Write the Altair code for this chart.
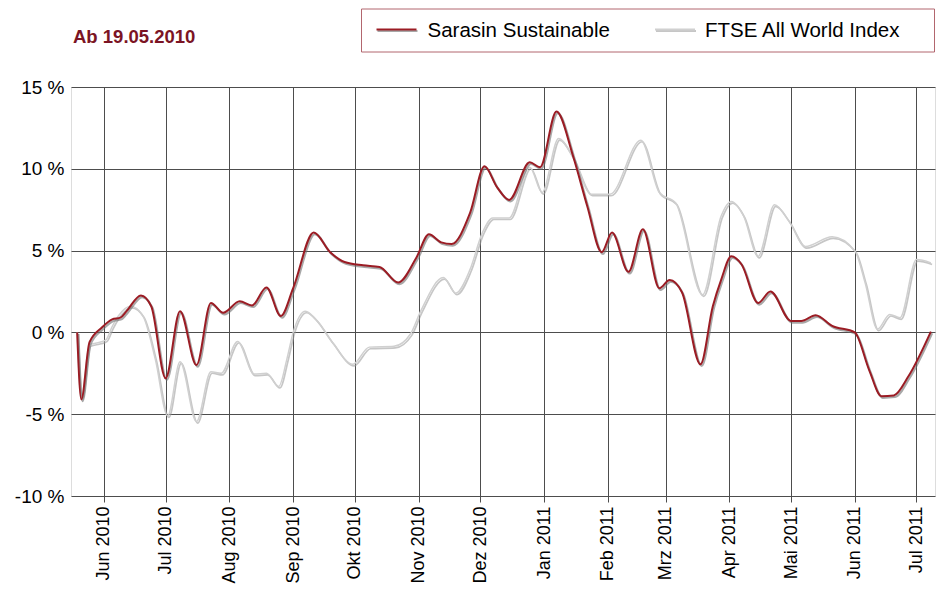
import altair as alt
import pandas as pd

SERIES = ["Sarasin Sustainable", "FTSE All World Index"]
COLORS = ["#9b1c24", "#d0d0d0"]
SHADOWS = ["#6e6e6e", "#a0a0a0"]
HEADER = "Ab 19.05.2010"
MONTHS_DE = ["Jan", "Feb", "Mrz", "Apr", "Mai", "Jun", "Jul", "Aug", "Sep", "Okt", "Nov", "Dez"]

SARASIN_DATES = ["2010-05-19", "2010-05-21", "2010-05-25", "2010-05-31", "2010-06-05", "2010-06-09",
                 "2010-06-12", "2010-06-19", "2010-06-24", "2010-07-01", "2010-07-08", "2010-07-16",
                 "2010-07-23", "2010-07-29", "2010-08-06", "2010-08-12", "2010-08-19", "2010-08-26",
                 "2010-09-01", "2010-09-11", "2010-09-19", "2010-09-26", "2010-10-05", "2010-10-13",
                 "2010-10-22", "2010-10-31", "2010-11-06", "2010-11-12", "2010-11-17", "2010-11-26",
                 "2010-12-03", "2010-12-09", "2010-12-15", "2010-12-25", "2010-12-30", "2011-01-07",
                 "2011-01-15", "2011-01-22", "2011-01-29", "2011-02-03", "2011-02-11", "2011-02-18",
                 "2011-02-26", "2011-03-03", "2011-03-09", "2011-03-18", "2011-03-24", "2011-03-28",
                 "2011-04-02", "2011-04-07", "2011-04-15", "2011-04-21", "2011-05-01", "2011-05-06",
                 "2011-05-13", "2011-05-21", "2011-06-01", "2011-06-08", "2011-06-14", "2011-06-20",
                 "2011-06-27", "2011-07-08"]
SARASIN_VALUES = [0, -4.1, -0.6, 0.3, 0.8, 0.9, 1.3, 2.26, 1.6, -2.8,
                  1.3, -2.0, 1.8, 1.2, 1.9, 1.65, 2.75, 1.0, 2.7,
                  6.1, 4.9, 4.3, 4.1, 4.0, 3.05, 4.6, 6.0, 5.5, 5.4,
                  7.3, 10.15, 8.9, 8.1, 10.4, 10.1, 13.5, 10.8, 7.7, 4.9,
                  6.1, 3.7, 6.3, 2.7, 3.2, 2.45, -1.95, 1.6, 3.2, 4.65,
                  4.15, 1.8, 2.5, 0.7, 0.7, 1.05, 0.4, 0.0, -2.3, -3.9,
                  -3.85, -2.7, 0.05]

FTSE_DATES = ["2010-05-19", "2010-05-21", "2010-05-25", "2010-05-30", "2010-06-02", "2010-06-05",
              "2010-06-08", "2010-06-14", "2010-06-20", "2010-06-26", "2010-07-02", "2010-07-08",
              "2010-07-16", "2010-07-23", "2010-07-28", "2010-08-05", "2010-08-13", "2010-08-19",
              "2010-08-25", "2010-08-29", "2010-09-01", "2010-09-07", "2010-09-12", "2010-09-20",
              "2010-09-30", "2010-10-08", "2010-10-20", "2010-10-28", "2010-11-02", "2010-11-13",
              "2010-11-19", "2010-11-26", "2010-12-02", "2010-12-07", "2010-12-15", "2010-12-25",
              "2010-12-31", "2011-01-08", "2011-01-15", "2011-01-24", "2011-02-02", "2011-02-17",
              "2011-02-26", "2011-03-06", "2011-03-19", "2011-03-28", "2011-04-02", "2011-04-08",
              "2011-04-15", "2011-04-23", "2011-04-30", "2011-05-08", "2011-05-21", "2011-06-01",
              "2011-06-06", "2011-06-12", "2011-06-18", "2011-06-23", "2011-07-01", "2011-07-08"]
FTSE_VALUES = [0, -4.0, -0.75, -0.6, -0.45, 0.35, 1.0, 1.6, 1.0, -1.65,
               -5.1, -1.8, -5.45, -2.4, -2.5, -0.55, -2.55, -2.5, -3.3, -1.6,
               0.0, 1.3, 0.8, -0.6, -1.95, -0.9, -0.85, -0.1, 1.3, 3.35,
               2.4, 3.85, 6.1, 7.0, 7.0, 10.1, 8.55, 11.85, 10.7, 8.45,
               8.45, 11.75, 8.55, 7.9, 2.3, 7.1, 8.0, 7.1, 4.65, 7.8,
               6.8, 5.25, 5.85, 5.0, 3.05, 0.2, 1.1, 0.9, 4.45, 4.25]

Y_TICKS = [-10, -5, 0, 5, 10, 15]
X_TICK_MONTHS = [(2010, m) for m in range(6, 13)] + [(2011, m) for m in range(1, 8)]

rows = []
for d, v in zip(SARASIN_DATES, SARASIN_VALUES):
    rows.append({"date": d, "value": v, "series": SERIES[0]})
for d, v in zip(FTSE_DATES, FTSE_VALUES):
    rows.append({"date": d, "value": v, "series": SERIES[1]})
df = pd.DataFrame(rows)

GRID = "#4d4d4d"
FONT = "Liberation Sans"
W, H = 864, 409

label_expr = "[" + ",".join("'%s'" % m for m in MONTHS_DE) + "][utcmonth(datum.value)] + ' ' + utcyear(datum.value)"

x_enc = alt.X(
    "date:T",
    scale=alt.Scale(type="utc",
                    domain=[alt.DateTime(year=2010, month=5, date=16, utc=True),
                            alt.DateTime(year=2011, month=7, date=10, utc=True)]),
    axis=alt.Axis(
        values=[alt.DateTime(year=y, month=m, date=1, utc=True) for y, m in X_TICK_MONTHS],
        labelExpr=label_expr, labelAngle=270, labelAlign="right", labelBaseline="middle",
        labelPadding=4, labelFontSize=18, labelFont=FONT, labelColor="#000000",
        grid=True, gridColor=GRID, gridWidth=1, domain=False,
        ticks=True, tickSize=6, tickColor=GRID, title=None, labelOverlap=False),
)
y_enc = alt.Y(
    "value:Q",
    scale=alt.Scale(domain=[-10, 15], nice=False, zero=False),
    axis=alt.Axis(values=Y_TICKS, labelExpr="datum.value + ' %'", labelFontSize=19,
                  labelFont=FONT, labelColor="#000000", labelPadding=7,
                  grid=True, gridColor=GRID, gridWidth=1, domain=False, ticks=False, title=None),
)

base = alt.Chart(df)

layers = []
widths = [2.0, 1.5]
# draw FTSE first, then Sarasin on top
for idx in [1, 0]:
    name = SERIES[idx]
    shadow = base.transform_filter(alt.datum.series == name).mark_line(
        interpolate="monotone", strokeWidth=widths[idx] + 0.2, color=SHADOWS[idx], opacity=0.6,
        xOffset=1.2, yOffset=1.6).encode(x=x_enc, y=y_enc)
    main = base.transform_filter(alt.datum.series == name).mark_line(
        interpolate="monotone", strokeWidth=widths[idx], color=COLORS[idx]).encode(x=x_enc, y=y_enc)
    layers += [shadow, main]

one = pd.DataFrame({"k": [0]})
ann = alt.Chart(one)

legend_box = ann.mark_rect(fill="white", stroke="#b2666e", strokeWidth=1).encode(
    x=alt.value(290.5), x2=alt.value(W - 0.5), y=alt.value(-78), y2=alt.value(-35))

legend_items = []
sym_x = [305.5, 584]
txt_x = [356.5, 634]
for i in range(2):
    legend_items.append(ann.mark_rule(color=SHADOWS[i], strokeWidth=2.2, opacity=0.6).encode(
        x=alt.value(sym_x[i] + 1), x2=alt.value(sym_x[i] + 41), y=alt.value(-56)))
    legend_items.append(ann.mark_rule(color=COLORS[i], strokeWidth=2.0).encode(
        x=alt.value(sym_x[i]), x2=alt.value(sym_x[i] + 40), y=alt.value(-57.5)))
    legend_items.append(ann.mark_text(text=SERIES[i], align="left", baseline="alphabetic",
                                      fontSize=20.5, font=FONT, color="#000000").encode(
        x=alt.value(txt_x[i]), y=alt.value(-50.5)))

header = ann.mark_text(text=HEADER, align="left", baseline="alphabetic", fontSize=18.5,
                       fontWeight="bold", font=FONT, color="#7b1424").encode(
    x=alt.value(2), y=alt.value(-44))

chart = alt.layer(*layers, legend_box, *legend_items, header).properties(
    width=W, height=H,
    padding={"left": 63, "top": 79, "right": 1, "bottom": 88},
    autosize=alt.AutoSizeParams(type="none"),
).configure_view(stroke=GRID, strokeWidth=1).configure(background="white")

chart.save("out.html", embed_options={"renderer": "svg", "actions": False})
